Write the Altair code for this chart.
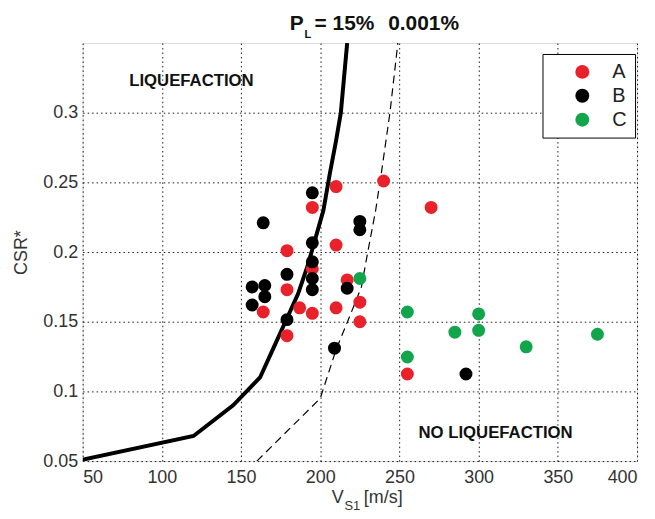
import altair as alt
import pandas as pd

# ---------------- data ----------------
a_x = [210, 240, 195, 270, 179, 210, 195, 179, 217, 164, 187, 195, 210, 225, 225, 179, 255]
a_y = [0.247, 0.251, 0.232, 0.232, 0.201, 0.205, 0.188, 0.173, 0.180, 0.157, 0.160, 0.156,
       0.160, 0.164, 0.150, 0.140, 0.1125]

b_x = [195, 164, 225, 225, 195, 195, 179, 195, 195, 157, 165, 165, 157, 217, 179, 209, 292]
b_y = [0.2425, 0.221, 0.222, 0.216, 0.2066, 0.193, 0.184, 0.181, 0.173, 0.175, 0.176, 0.168,
       0.162, 0.174, 0.1515, 0.131, 0.1125]

c_x = [225, 255, 300, 285, 300, 330, 375, 255]
c_y = [0.181, 0.157, 0.1556, 0.1425, 0.1438, 0.132, 0.141, 0.1247]

# P_L = 15 % boundary (solid)
s_x = [50, 120, 145, 162, 170, 178, 186, 192, 197, 202, 206, 210, 213, 217]
s_y = [0.051, 0.068, 0.09, 0.11, 0.13, 0.15, 0.17, 0.19, 0.21, 0.23, 0.256, 0.28, 0.30, 0.35]

# P_L = 0.001 % boundary (dashed)
d_x = [160, 200, 210, 219, 226, 230, 235, 239, 244, 249]
d_y = [0.05, 0.095, 0.13, 0.155, 0.175, 0.20, 0.23, 0.26, 0.30, 0.35]

groups = ["A", "B", "C"]
group_colors = ["#e8212a", "#000000", "#13a54b"]

x_ticks = [50, 100, 150, 200, 250, 300, 350, 400]
y_ticks = [0.05, 0.1, 0.15, 0.2, 0.25, 0.3]

region_labels = ["LIQUEFACTION", "NO LIQUEFACTION"]
region_x = [118.7, 310.7]
region_y = [0.3224, 0.0701]

# ---------------- tables ----------------
pts = pd.DataFrame({
    "x": a_x + b_x + c_x,
    "y": a_y + b_y + c_y,
    "group": ["A"] * len(a_x) + ["B"] * len(b_x) + ["C"] * len(c_x),
})
solid = pd.DataFrame({"x": s_x, "y": s_y})
dashed = pd.DataFrame({"x": d_x, "y": d_y})
regions = pd.DataFrame({"x": region_x, "y": region_y, "t": region_labels})

BOLD = "Liberation Sans, Arial, sans-serif"
REG = "Liberation Sans, Arial, sans-serif"

xs = alt.Scale(domain=[50, 400], nice=False, zero=False)
ys = alt.Scale(domain=[0.05, 0.35], nice=False, zero=False)

x_axis = alt.Axis(values=x_ticks, grid=True, gridColor="#000", gridDash=[1.5, 3],
                  gridWidth=1, gridOpacity=0.9, domain=False, ticks=False,
                  labelFontSize=18, labelColor="#333", labelFont=REG, labelPadding=8,
                  title=None)
y_axis = alt.Axis(values=y_ticks, grid=True, gridColor="#000", gridDash=[1.5, 3],
                  gridWidth=1, gridOpacity=0.9, domain=False, ticks=False,
                  labelFontSize=18, labelColor="#333", labelFont=REG, labelPadding=5,
                  labelExpr="format(datum.value, '~g')",
                  title="CSR*", titleFontSize=18, titleFontWeight="normal",
                  titleColor="#333", titleFont=REG, titlePadding=12)

base_x = alt.X("x:Q", scale=xs, axis=x_axis)
base_y = alt.Y("y:Q", scale=ys, axis=y_axis)

solid_line = alt.Chart(solid).mark_line(color="black", strokeWidth=4, clip=True).encode(
    x=base_x, y=base_y)
dashed_line = alt.Chart(dashed).mark_line(color="black", strokeWidth=1.2,
                                          strokeDash=[8, 5], clip=True).encode(
    x=alt.X("x:Q", scale=xs), y=alt.Y("y:Q", scale=ys))

points = alt.Chart(pts).mark_circle(size=170, opacity=1).encode(
    x=alt.X("x:Q", scale=xs),
    y=alt.Y("y:Q", scale=ys),
    color=alt.Color("group:N",
                    scale=alt.Scale(domain=groups, range=group_colors),
                    legend=alt.Legend(title=None, orient="none", legendX=462, legendY=11,
                                      strokeColor="#000", fillColor="white", padding=8,
                                      symbolOffset=22, labelOffset=20, rowPadding=4,
                                      symbolSize=196, symbolType="circle",
                                      symbolStrokeWidth=0, labelFontSize=20,
                                      labelFont=REG, labelColor="#222")),
)

region_text = alt.Chart(regions).mark_text(font=BOLD, fontSize=16.8, fontWeight="bold",
                                           color="#111", align="center",
                                           baseline="middle").encode(
    x=alt.X("x:Q", scale=xs), y=alt.Y("y:Q", scale=ys), text="t:N")

# title "P_L = 15%   0.001%" above the frame
title_main = pd.DataFrame({"x": [185.2, 196.4, 242.9], "y": [0.359, 0.359, 0.359],
                           "t": ["P", "= 15%", "0.001%"]})
t_p = alt.Chart(title_main.iloc[[0]]).mark_text(font=BOLD, fontSize=21, fontWeight="bold",
                                                 color="#111", align="center",
                                                 baseline="alphabetic").encode(
    x=alt.X("x:Q", scale=xs), y=alt.Y("y:Q", scale=ys), text="t:N")
t_rest = alt.Chart(title_main.iloc[[1, 2]]).mark_text(font=BOLD, fontSize=21,
                                                       fontWeight="bold", color="#111",
                                                       align="left",
                                                       baseline="alphabetic").encode(
    x=alt.X("x:Q", scale=xs), y=alt.Y("y:Q", scale=ys), text="t:N")
t_sub = alt.Chart(pd.DataFrame({"x": [190.0], "y": [0.3535], "t": ["L"]})).mark_text(
    font=BOLD, fontSize=11, fontWeight="bold", color="#111", align="left",
    baseline="alphabetic").encode(
    x=alt.X("x:Q", scale=xs), y=alt.Y("y:Q", scale=ys), text="t:N")

# x axis title "V_S1 [m/s]"
xt_main = pd.DataFrame({"x": [207.2, 227.5], "y": [0.0201, 0.0201], "t": ["V", "[m/s]"]})
xt1 = alt.Chart(xt_main).mark_text(font=REG, fontSize=18, color="#333", align="left",
                                   baseline="alphabetic").encode(
    x=alt.X("x:Q", scale=xs), y=alt.Y("y:Q", scale=ys), text="t:N")
xt2 = alt.Chart(pd.DataFrame({"x": [215.3], "y": [0.015], "t": ["S1"]})).mark_text(
    font=REG, fontSize=13, color="#333", align="left", baseline="alphabetic").encode(
    x=alt.X("x:Q", scale=xs), y=alt.Y("y:Q", scale=ys), text="t:N")

chart = alt.layer(solid_line, dashed_line, points, region_text, t_p, t_rest, t_sub, xt1, xt2
                  ).properties(
    width=557, height=420,
    padding={"left": 75, "top": 34, "right": 10, "bottom": 55},
    autosize=alt.AutoSizeParams(type="none"),
).configure_view(stroke="#333", strokeWidth=1.6).configure(background="white")

chart.save("out.html", embed_options={"renderer": "svg", "actions": False})
